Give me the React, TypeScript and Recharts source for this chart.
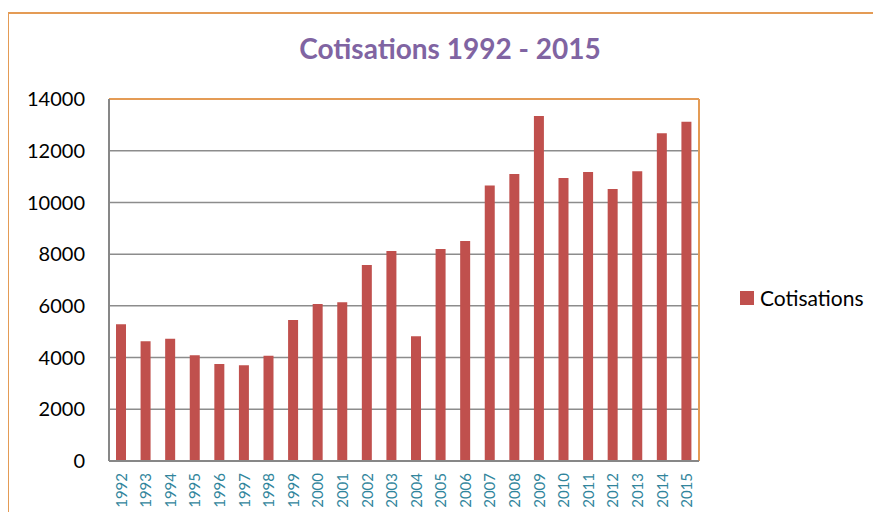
import React from "react";
import { BarChart, Bar, XAxis, YAxis, CartesianGrid, Legend, ReferenceLine } from "recharts";

const years = [
  "1992", "1993", "1994", "1995", "1996", "1997", "1998", "1999", "2000", "2001", "2002", "2003",
  "2004", "2005", "2006", "2007", "2008", "2009", "2010", "2011", "2012", "2013", "2014", "2015",
];
const cotisations = [
  5290, 4630, 4730, 4090, 3750, 3700, 4070, 5450, 6070, 6140, 7580, 8120,
  4820, 8200, 8510, 10650, 11100, 13340, 10940, 11180, 10520, 11210, 12680, 13120,
];
const yTicks = [0, 2000, 4000, 6000, 8000, 10000, 12000, 14000];

const title = "Cotisations 1992 - 2015";
const seriesName = "Cotisations";

const data = years.map((year, i) => ({ year, value: cotisations[i] }));

const BAR_COLOR = "#C0504D";
const ORANGE = "#E49B55";
const AXIS_GRAY = "#878787";

function YearTick(props: any) {
  const { x, y, payload } = props;
  const ty = y + 10;
  return (
    <text
      x={x}
      y={ty}
      transform={`rotate(-90, ${x}, ${ty})`}
      textAnchor="end"
      dy="0.36em"
      fill="#31859C"
      fontSize={15}
      fontFamily="Lato"
    >
      {payload.value}
    </text>
  );
}

function LegendBox(props: any) {
  const items = props.payload || [];
  return (
    <div style={{ fontFamily: "Lato", fontSize: 21, color: "#000" }}>
      {items.map((it: any) => (
        <div key={it.value} style={{ display: "flex", alignItems: "center" }}>
          <span style={{ display: "inline-block", width: 14, height: 14, background: BAR_COLOR, marginRight: 6 }} />
          <span>{it.value}</span>
        </div>
      ))}
    </div>
  );
}

export default function App() {
  const lastYear = years[years.length - 1];
  const maxTick = yTicks[yTicks.length - 1];
  return (
    <div style={{ position: "relative", width: 881, height: 520, margin: -8, background: "#fff", overflow: "hidden" }}>
      <div
        style={{
          position: "absolute",
          left: 7,
          top: 12,
          width: 900,
          height: 540,
          borderLeft: `2px solid ${ORANGE}`,
          borderTop: `2px solid ${ORANGE}`,
        }}
      />
      <div
        style={{
          position: "absolute",
          left: 0,
          top: 34,
          width: 900,
          textAlign: "center",
          fontFamily: "Lato",
          fontWeight: 700,
          fontSize: 28,
          lineHeight: "28px",
          color: "#8064A2",
        }}
      >
        {title}
      </div>
      <div style={{ position: "absolute", left: 0, top: 0 }}>
        <BarChart width={881} height={520} data={data} margin={{ top: 99, right: 182, bottom: 0, left: 0 }}>
          <CartesianGrid vertical={false} stroke="#8c8c8c" strokeWidth={1.5} />
          <XAxis
            dataKey="year"
            interval={0}
            height={59}
            axisLine={{ stroke: AXIS_GRAY, strokeWidth: 2 }}
            tickLine={false}
            tickSize={0}
            tick={<YearTick />}
          />
          <YAxis
            domain={[0, maxTick]}
            ticks={yTicks}
            width={109}
            axisLine={{ stroke: AXIS_GRAY, strokeWidth: 2 }}
            tickLine={false}
            tickSize={0}
            tickMargin={24}
            tick={{ fill: "#000", fontSize: 20, fontFamily: "Lato" }}
          />
          <Legend
            layout="horizontal"
            align="center"
            verticalAlign="middle"
            content={<LegendBox />}
            wrapperStyle={{ left: 740, top: 285, width: 140 }}
          />
          <Bar dataKey="value" name={seriesName} fill={BAR_COLOR} barSize={10} isAnimationActive={false} />
          <ReferenceLine y={maxTick} stroke={ORANGE} strokeWidth={2} />
          <ReferenceLine x={lastYear} position="end" stroke={ORANGE} strokeWidth={2} />
        </BarChart>
      </div>
    </div>
  );
}
